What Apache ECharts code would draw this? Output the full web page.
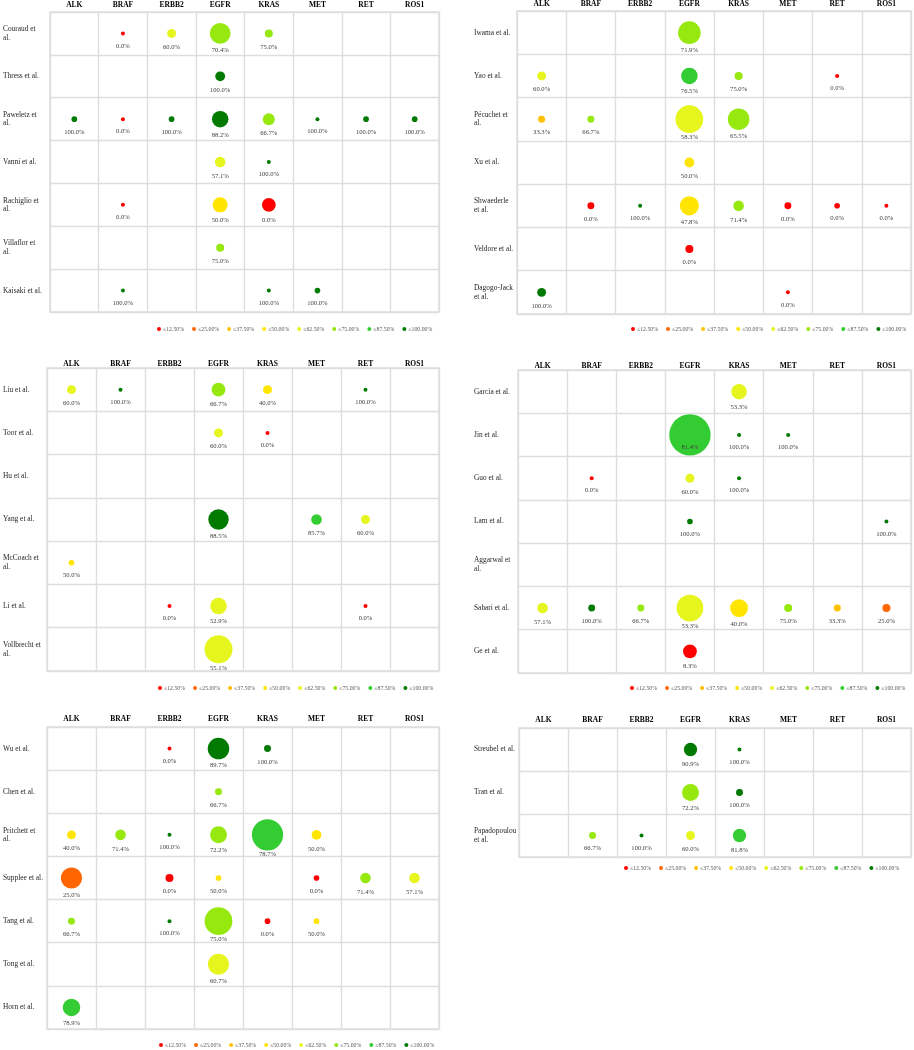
<!DOCTYPE html>
<html>
<head>
<meta charset="utf-8">
<script src="https://cdn.jsdelivr.net/npm/echarts@6/dist/echarts.min.js"></script>
<style>
html,body{margin:0;padding:0;background:#fff;}
#c{width:914px;height:1050px;}
</style>
</head>
<body>
<div id="c"></div>
<script>
// ---- categories ----
const genes = ['ALK','BRAF','ERBB2','EGFR','KRAS','MET','RET','ROS1'];
const bucketLabels = ['≤12.50%','≤25.00%','≤37.50%','≤50.00%','≤62.50%','≤75.00%','≤87.50%','≤100.00%'];
const bucketMax = [12.5,25,37.5,50,62.5,75,87.5,100];

// ---- panel study names ----
const studies1 = ['Couraud et\nal.','Thress et al.','Paweletz et\nal.','Vanni et al.','Rachiglio et\nal.','Villaflor et\nal.','Kaisaki et al.'];
const studies2 = ['Iwama et al.','Yao et al.','Pécuchet et\nal.','Xu et al.','Shwaederle\net al.','Veldore et al.','Dagogo-Jack\net al.'];
const studies3 = ['Liu et al.','Toor et al.','Hu et al.','Yang et al.','McCoach et\nal.','Li et al.','Vollbrecht et\nal.'];
const studies4 = ['Garcia et al.','Jin et al.','Guo et al.','Lam et al.','Aggarwal et\nal.','Sabari et al.','Ge et al.'];
const studies5 = ['Wu et al.','Chen et al.','Pritchett et\nal.','Supplee et al.','Tang et al.','Tong et al.','Horn et al.'];
const studies6 = ['Streubel et al.','Tran et al.','Papadopoulou\net al.'];

// ---- cells: [geneIndex, studyIndex, percent, estimated sample size] ----
const cells1 = [
  [1,0,0.0,1],[2,0,60.0,5],[3,0,70.4,27],[4,0,75.0,4],
  [3,1,100.0,6],
  [0,2,100.0,2],[1,2,0.0,1],[2,2,100.0,2],[3,2,88.2,17],[4,2,66.7,9],[5,2,100.0,1],[6,2,100.0,2],[7,2,100.0,2],
  [3,3,57.1,7],[4,3,100.0,1],
  [1,4,0.0,1],[3,4,50.0,14],[4,4,0.0,12],
  [3,5,75.0,4],
  [1,6,100.0,1],[4,6,100.0,1],[5,6,100.0,2]
];
const cells2 = [
  [3,0,71.9,32],
  [0,1,60.0,5],[3,1,76.5,17],[4,1,75.0,4],[6,1,0.0,1],
  [0,2,33.3,3],[1,2,66.7,3],[3,2,58.3,48],[4,2,65.5,29],
  [3,3,50.0,6],
  [1,4,0.0,3],[2,4,100.0,1],[3,4,47.8,23],[4,4,71.4,7],[5,4,0.0,3],[6,4,0.0,2],[7,4,0.0,1],
  [3,5,0.0,4],
  [0,6,100.0,5],[5,6,0.0,1]
];
const cells3 = [
  [0,0,60.0,5],[1,0,100.0,1],[3,0,66.7,12],[4,0,40.0,5],[6,0,100.0,1],
  [3,1,60.0,5],[4,1,0.0,1],
  [3,3,88.5,26],[5,3,85.7,7],[6,3,60.0,5],
  [0,4,50.0,2],
  [2,5,0.0,1],[3,5,52.9,17],[6,5,0.0,1],
  [3,6,55.1,49]
];
const cells4 = [
  [4,0,53.3,15],
  [3,1,81.4,107],[4,1,100.0,1],[5,1,100.0,1],
  [1,2,0.0,1],[3,2,60.0,5],[4,2,100.0,1],
  [3,3,100.0,2],[7,3,100.0,1],
  [0,5,57.1,7],[1,5,100.0,3],[2,5,66.7,3],[3,5,53.3,45],[4,5,40.0,20],[5,5,75.0,4],[6,5,33.3,3],[7,5,25.0,4],
  [3,6,8.3,12]
];
const cells5 = [
  [2,0,0.0,1],[3,0,89.7,29],[4,0,100.0,3],
  [3,1,66.7,3],
  [0,2,40.0,5],[1,2,71.4,7],[2,2,100.0,1],[3,2,72.2,18],[4,2,78.7,61],[5,2,50.0,6],
  [0,3,25.0,28],[2,3,0.0,4],[3,3,50.0,2],[5,3,0.0,2],[6,3,71.4,7],[7,3,57.1,7],
  [0,4,66.7,3],[2,4,100.0,1],[3,4,75.0,48],[4,4,0.0,2],[5,4,50.0,2],
  [3,5,60.7,28],
  [0,6,78.9,19]
];
const cells6 = [
  [3,0,90.9,11],[4,0,100.0,1],
  [3,1,72.2,18],[4,1,100.0,3],
  [1,2,66.7,3],[2,2,100.0,1],[3,2,60.0,5],[4,2,81.8,11]
];

// ---- styling / layout ----
const bucketColors = ['#FF0000','#FF6600','#FFC000','#FFE500','#E6F51E','#96E80F','#33CC33','#007A00'];
const FONT = 'Liberation Serif';

const panels = [
  {studies:studies1, cells:cells1, left:50,  top:12,  width:389, height:300, labelX:3,   headMargin:3,  legLeft:157, legTop:326},
  {studies:studies2, cells:cells2, left:517, top:11,  width:394, height:303, labelX:474, headMargin:3,  legLeft:631, legTop:326},
  {studies:studies3, cells:cells3, left:47,  top:368, width:392, height:303, labelX:3,   headMargin:0,  legLeft:158, legTop:685},
  {studies:studies4, cells:cells4, left:518, top:370, width:393, height:303, labelX:474, headMargin:0,  legLeft:630, legTop:685},
  {studies:studies5, cells:cells5, left:47,  top:727, width:392, height:302, labelX:3,   headMargin:4,  legLeft:159, legTop:1042},
  {studies:studies6, cells:cells6, left:519, top:728, width:392, height:129, labelX:474, headMargin:4,  legLeft:624, legTop:865}
];

function bucketOf(p){ for (let i=0;i<bucketMax.length;i++) if (p <= bucketMax[i] + 1e-9) return i; return bucketMax.length-1; }
function sizeOf(n){ return 4*Math.sqrt(n); }

const grids=[], xAxes=[], yAxes=[], series=[], legends=[];
const lineStyle = {color:'#DEDEDE', width:1.4};

panels.forEach((p, pi) => {
  grids.push({left:p.left, top:p.top, width:p.width, height:p.height, show:true, borderColor:'#DEDEDE', borderWidth:1.4, containLabel:false});
  xAxes.push({
    type:'category', gridIndex:pi, data:genes, position:'top', boundaryGap:true,
    axisLine:{show:false}, axisTick:{show:false},
    splitLine:{show:true, lineStyle:lineStyle},
    axisLabel:{interval:0, fontFamily:FONT, fontWeight:'bold', fontSize:7.5, color:'#000', margin:p.headMargin}
  });
  yAxes.push({
    type:'category', gridIndex:pi, data:p.studies, inverse:true, boundaryGap:true,
    axisLine:{show:false}, axisTick:{show:false},
    splitLine:{show:true, lineStyle:lineStyle},
    axisLabel:{interval:0, fontFamily:FONT, fontSize:7.4, lineHeight:8.5, color:'#262626', align:'left', margin:p.left - p.labelX}
  });
  bucketLabels.forEach((bl, bi) => {
    const data = p.cells.filter(c => bucketOf(c[2]) === bi).map(c => {
      const d = sizeOf(c[3]);
      const r = d/2;
      const dy = r > 18 ? 12 : 11.5 + r*0.5;
      return {value:[c[0], c[1], c[2]], symbolSize:d, label:{offset:[0, dy]}};
    });
    series.push({
      type:'scatter', name:bl, xAxisIndex:pi, yAxisIndex:pi,
      symbol:'circle', itemStyle:{color:bucketColors[bi], opacity:1},
      emphasis:{disabled:true},
      label:{show:true, position:'inside', fontFamily:FONT, fontSize:6.6, color:'#404040',
             formatter: prm => prm.value[2].toFixed(1) + '%'},
      data:data
    });
  });
  legends.push({
    data:bucketLabels, left:p.legLeft, top:p.legTop, orient:'horizontal',
    icon:'circle', itemWidth:4, itemHeight:4, itemGap:8, selectedMode:false, padding:0,
    textStyle:{fontFamily:FONT, fontSize:5.8, color:'#595959', padding:[0,0,0,-3]}
  });
});

const chart = echarts.init(document.getElementById('c'), null, {renderer:'canvas'});
chart.setOption({
  animation:false,
  backgroundColor:'#fff',
  grid:grids, xAxis:xAxes, yAxis:yAxes, legend:legends, series:series
});
</script>
</body>
</html>
